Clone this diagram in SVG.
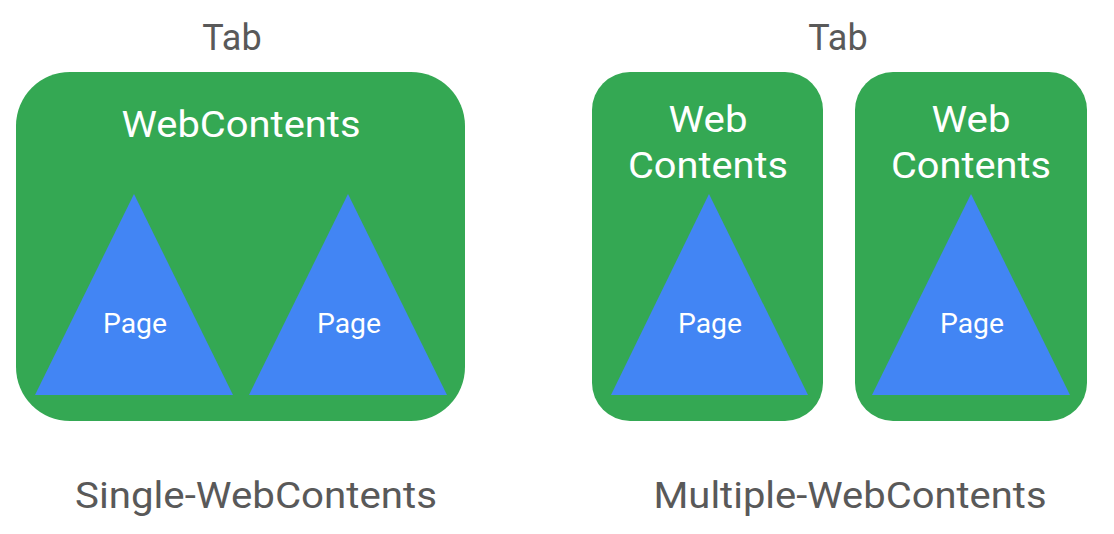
<svg xmlns="http://www.w3.org/2000/svg" width="1114" height="534" viewBox="0 0 1114 534">
<style>
.wc{fill:#34a853}
.pg{fill:#4285f4}
.t{font-family:Roboto,"Liberation Sans",sans-serif;text-anchor:middle}
.lbl{fill:#595959;font-size:36px}
.wt{fill:#ffffff;font-size:37px}
.pt{fill:#ffffff;font-size:28px}
</style>
<rect width="1114" height="534" fill="#ffffff"/>
<g id="single">
<text class="t lbl" x="232" y="50">Tab</text>
<g id="wc-single">
<rect class="wc" x="16" y="72" width="449" height="349" rx="54"/>
<text class="t wt" x="241" y="137" textLength="239" lengthAdjust="spacingAndGlyphs">WebContents</text>
</g>
<g id="page-s1">
<polygon class="pg" points="134,194 233,395 35,395"/>
<text class="t pt" x="135" y="333" textLength="64" lengthAdjust="spacingAndGlyphs">Page</text>
</g>
<g id="page-s2">
<polygon class="pg" points="348,194 447,395 249,395"/>
<text class="t pt" x="349" y="333" textLength="64" lengthAdjust="spacingAndGlyphs">Page</text>
</g>
<text class="t lbl" x="256" y="508" textLength="362" lengthAdjust="spacingAndGlyphs">Single-WebContents</text>
</g>
<g id="multiple">
<text class="t lbl" x="838" y="50">Tab</text>
<g id="wc-m1">
<rect class="wc" x="592" y="72" width="231" height="349" rx="38"/>
<text class="t wt" x="708" y="132" textLength="79" lengthAdjust="spacingAndGlyphs">Web</text>
<text class="t wt" x="708" y="178" textLength="160" lengthAdjust="spacingAndGlyphs">Contents</text>
</g>
<g id="page-m1">
<polygon class="pg" points="709,194 808,395 611,395"/>
<text class="t pt" x="710" y="333" textLength="64" lengthAdjust="spacingAndGlyphs">Page</text>
</g>
<g id="wc-m2">
<rect class="wc" x="855" y="72" width="232" height="349" rx="38"/>
<text class="t wt" x="971" y="132" textLength="79" lengthAdjust="spacingAndGlyphs">Web</text>
<text class="t wt" x="971" y="178" textLength="160" lengthAdjust="spacingAndGlyphs">Contents</text>
</g>
<g id="page-m2">
<polygon class="pg" points="971,194 1070,395 872,395"/>
<text class="t pt" x="972" y="333" textLength="64" lengthAdjust="spacingAndGlyphs">Page</text>
</g>
<text class="t lbl" x="850" y="508" textLength="393" lengthAdjust="spacingAndGlyphs">Multiple-WebContents</text>
</g>
<g id="connectors"/>
</svg>
